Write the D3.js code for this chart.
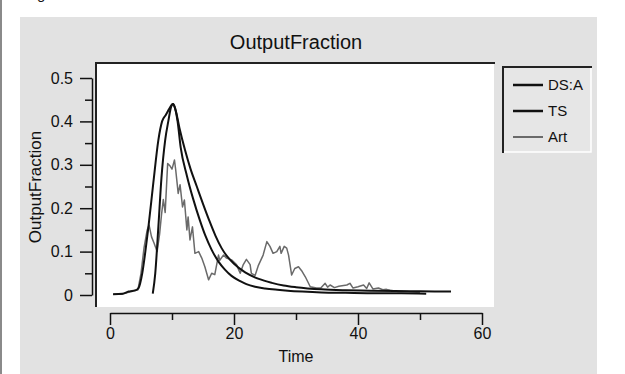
<!DOCTYPE html>
<html>
<head>
<meta charset="utf-8">
<script src="https://cdn.jsdelivr.net/npm/d3@7"></script>
<style>
  body { margin: 0; background: #fff; }
  text { font-family: "Liberation Sans", Arial, sans-serif; fill: #111; }
</style>
</head>
<body>
<div id="chart"></div>
<script>
// size of the page
let width = 625,
    height = 374;

// data (time, output fraction)
const dsaTime = [0.5, 2, 3, 4, 4.6, 5.2, 5.7, 6.2, 7, 7.8, 8.4, 9.0, 9.6, 10.1, 10.5, 10.9, 11.4, 12.4, 13.4, 14.5, 15.4, 16.4, 17.5, 18.5, 19.6, 21, 22, 23.4, 25, 27, 28.7, 31, 34.1, 38, 43, 47, 51];
const dsaValue = [0.002, 0.003, 0.008, 0.010, 0.016, 0.05, 0.10, 0.157, 0.26, 0.357, 0.40, 0.415, 0.43, 0.44, 0.43, 0.40, 0.34, 0.275, 0.222, 0.172, 0.136, 0.104, 0.077, 0.059, 0.044, 0.032, 0.025, 0.019, 0.015, 0.012, 0.010, 0.008, 0.006, 0.005, 0.004, 0.004, 0.003];

const tsTime = [6.9, 7.3, 7.8, 8.3, 8.9, 9.4, 9.9, 10.2, 10.6, 11.2, 12.1, 13, 14, 15, 16, 17, 18, 19, 20, 21.8, 24, 26.1, 28, 30, 34.1, 38, 42, 46, 50, 55];
const tsValue = [0.003, 0.05, 0.157, 0.27, 0.357, 0.40, 0.435, 0.44, 0.425, 0.385, 0.334, 0.29, 0.25, 0.21, 0.172, 0.137, 0.108, 0.087, 0.072, 0.052, 0.037, 0.028, 0.022, 0.018, 0.013, 0.011, 0.010, 0.009, 0.0085, 0.008];

const artTime = [0.5, 2, 3, 3.5, 4.5, 5.0, 5.5, 6.0, 6.3, 6.7, 7.1, 7.6, 8.0, 8.3, 8.6, 8.9, 9.3, 9.7, 10.0, 10.4, 10.6, 11.0, 11.3, 11.7, 12.0, 12.4, 12.6, 12.9, 13.3, 13.7, 14.3, 14.8, 15.3, 15.9, 16.4, 16.9, 17.5, 17.7, 18.3, 18.8, 19.6, 20.4, 21.0, 21.5, 22.0, 22.6, 22.8, 23.4, 23.9, 24.7, 25.3, 25.8, 26.3, 26.9, 27.4, 27.6, 28.1, 28.5, 28.8, 29.3, 29.8, 30.4, 31.0, 31.5, 32.3, 33.3, 34.0, 34.7, 35.1, 35.5, 36.2, 36.9, 38.2, 38.7, 39.2, 40.0, 40.9, 41.4, 41.8, 42.4, 43.3, 44.0, 44.6, 45.2, 46.5, 48, 50];
const artValue = [0.002, 0.002, 0.006, 0.010, 0.012, 0.05, 0.11, 0.15, 0.161, 0.134, 0.12, 0.10, 0.14, 0.184, 0.22, 0.19, 0.303, 0.297, 0.29, 0.311, 0.288, 0.234, 0.254, 0.203, 0.219, 0.150, 0.18, 0.127, 0.157, 0.096, 0.10, 0.085, 0.065, 0.035, 0.05, 0.047, 0.092, 0.08, 0.092, 0.085, 0.081, 0.07, 0.05, 0.07, 0.082, 0.07, 0.05, 0.045, 0.067, 0.092, 0.123, 0.112, 0.096, 0.10, 0.112, 0.096, 0.112, 0.108, 0.092, 0.046, 0.061, 0.065, 0.054, 0.042, 0.019, 0.016, 0.016, 0.027, 0.018, 0.023, 0.017, 0.02, 0.023, 0.027, 0.016, 0.019, 0.023, 0.015, 0.028, 0.014, 0.016, 0.012, 0.013, 0.011, 0.008, 0.008, 0.006];

const seriesNames = ["DS:A", "TS", "Art"];
const xTicks = [0, 20, 40, 60];
const xMinor = [10, 30, 50];
const yTicks = [0, 0.1, 0.2, 0.3, 0.4, 0.5];
const yMinor = [0.05, 0.15, 0.25, 0.35, 0.45];

const series = [
  { name: seriesNames[0], pts: d3.zip(dsaTime, dsaValue), color: "#111", w: 2, smooth: true },
  { name: seriesNames[1], pts: d3.zip(tsTime, tsValue), color: "#111", w: 2, smooth: true },
  { name: seriesNames[2], pts: d3.zip(artTime, artValue), color: "#6a6a6a", w: 1.5, smooth: false }
];

const svg = d3.select("#chart")
  .append("svg")
  .attr("width", width)
  .attr("height", height);

// left page edge line and the cut-off text above the panel
svg.append("rect").attr("x", 0).attr("y", 0).attr("width", 2).attr("height", height).attr("fill", "#8a8a8a");
svg.append("text").attr("x", 37).attr("y", -1).attr("font-size", 15).text("g");

// gray panel
svg.append("rect")
  .attr("x", 20).attr("y", 17)
  .attr("width", 577).attr("height", height - 17)
  .attr("fill", "#e2e2e2");

// scales
let x = d3.scaleLinear().domain([0, 60]).range([110, 482]);
let y = d3.scaleLinear().domain([0, 0.5]).range([295, 78]);

// white plot box with dark top / left edge
svg.append("rect")
  .attr("x", 96).attr("y", 63)
  .attr("width", 398).attr("height", 244)
  .attr("fill", "#fff");
svg.append("path")
  .attr("d", "M96,307V63H495")
  .attr("fill", "none")
  .attr("stroke", "#222")
  .attr("stroke-width", 2);

// title
svg.append("text")
  .attr("x", 296).attr("y", 49)
  .attr("text-anchor", "middle")
  .attr("font-size", 20)
  .text("OutputFraction");

// x axis
svg.append("g")
  .attr("transform", "translate(0,313)")
  .call(d3.axisBottom(x).tickValues(xTicks).tickSize(12).tickSizeOuter(0).tickPadding(3));
svg.append("g")
  .attr("transform", "translate(0,313)")
  .call(d3.axisBottom(x).tickValues(xMinor).tickSize(7).tickFormat(""))
  .call(g => g.select(".domain").remove());

// y axis
svg.append("g")
  .attr("transform", "translate(92,0)")
  .call(d3.axisLeft(y).tickValues(yTicks).tickSize(12).tickSizeOuter(0).tickPadding(7).tickFormat(d => d === 0 ? "0" : d3.format(".1f")(d)));
svg.append("g")
  .attr("transform", "translate(92,0)")
  .call(d3.axisLeft(y).tickValues(yMinor).tickSize(7).tickFormat(""))
  .call(g => g.select(".domain").remove());

svg.selectAll(".tick line, .domain")
  .attr("stroke", "#111")
  .attr("stroke-width", 1.5);
svg.selectAll(".tick text")
  .attr("font-family", "Liberation Sans, Arial, sans-serif")
  .attr("font-size", 16)
  .attr("fill", "#111");

// axis titles
svg.append("text")
  .attr("x", 296).attr("y", 362)
  .attr("text-anchor", "middle")
  .attr("font-size", 16)
  .text("Time");
svg.append("text")
  .attr("transform", "translate(41,187) rotate(-90)")
  .attr("text-anchor", "middle")
  .attr("font-size", 17)
  .text("OutputFraction");

// lines
const smoothLine = d3.line()
  .curve(d3.curveMonotoneX)
  .x(d => x(d[0]))
  .y(d => y(d[1]));
const rawLine = d3.line()
  .x(d => x(d[0]))
  .y(d => y(d[1]));

svg.append("g")
  .selectAll("path")
  .data(series.slice().reverse())
  .join("path")
  .attr("d", d => d.smooth ? smoothLine(d.pts) : rawLine(d.pts))
  .attr("fill", "none")
  .attr("stroke", d => d.color)
  .attr("stroke-width", d => d.w)
  .attr("stroke-linejoin", "round");

// legend
const lg = svg.append("g");
lg.append("rect")
  .attr("x", 503).attr("y", 67)
  .attr("width", 88).attr("height", 85)
  .attr("fill", "#e6e6e6");
lg.append("path")
  .attr("d", "M503,152H591V67")
  .attr("fill", "none")
  .attr("stroke", "#fff")
  .attr("stroke-width", 1.5);
lg.append("path")
  .attr("d", "M503,153V67H592")
  .attr("fill", "none")
  .attr("stroke", "#222")
  .attr("stroke-width", 2);

const item = lg.selectAll("g.item")
  .data(series)
  .join("g")
  .attr("class", "item")
  .attr("transform", (d, i) => `translate(0,${85 + i * 26})`);
item.append("line")
  .attr("x1", 513).attr("x2", 543)
  .attr("stroke", d => d.color)
  .attr("stroke-width", (d, i) => i === 2 ? 2 : 2.5);
item.append("text")
  .attr("x", 548).attr("dy", "0.35em")
  .attr("font-size", 15)
  .text(d => d.name);
</script>
</body>
</html>
